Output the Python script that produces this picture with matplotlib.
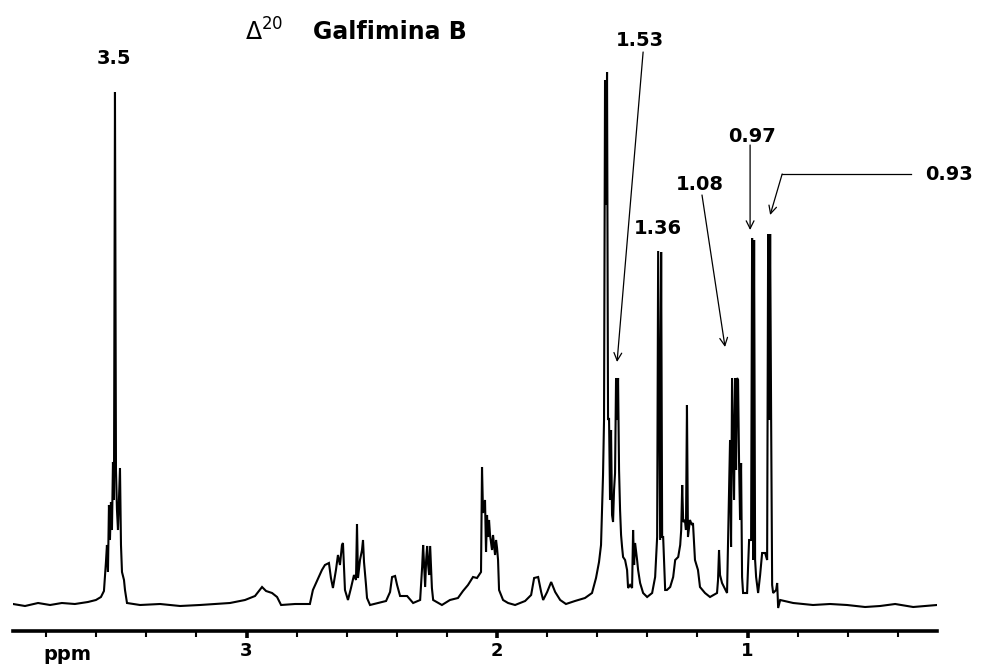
import matplotlib
matplotlib.use("Agg")
from matplotlib import pyplot as plt
import numpy as np

# 1H NMR trace: chemical shift (ppm) and intensity (a.u.)
ppm = [3.932, 3.884, 3.832, 3.784, 3.737, 3.685, 3.633, 3.601, 3.581, 3.569,
       3.561, 3.557, 3.553, 3.549, 3.545, 3.541, 3.537, 3.533, 3.529, 3.525,
       3.521, 3.517, 3.513, 3.509, 3.505, 3.501, 3.497, 3.489, 3.485, 3.477,
       3.425, 3.345, 3.265, 3.186, 3.126, 3.066, 3.006, 2.966, 2.938, 2.922,
       2.898, 2.878, 2.862, 2.806, 2.747, 2.735, 2.719, 2.699, 2.687, 2.671,
       2.663, 2.655, 2.643, 2.635, 2.627, 2.619, 2.615, 2.607, 2.595, 2.583,
       2.571, 2.563, 2.559, 2.555, 2.547, 2.539, 2.535, 2.531, 2.523, 2.519,
       2.507, 2.475, 2.443, 2.427, 2.419, 2.407, 2.399, 2.387, 2.359, 2.335,
       2.307, 2.299, 2.295, 2.291, 2.287, 2.283, 2.279, 2.275, 2.271, 2.267,
       2.263, 2.260, 2.255, 2.220, 2.188, 2.156, 2.136, 2.116, 2.096, 2.080,
       2.064, 2.060, 2.056, 2.048, 2.044, 2.040, 2.036, 2.032, 2.028, 2.020,
       2.016, 2.008, 2.004, 2.000, 1.996, 1.992, 1.976, 1.956, 1.928, 1.888,
       1.864, 1.852, 1.836, 1.824, 1.816, 1.800, 1.784, 1.768, 1.748, 1.725,
       1.689, 1.649, 1.621, 1.605, 1.593, 1.585, 1.581, 1.577, 1.573, 1.569,
       1.565, 1.561, 1.557, 1.553, 1.549, 1.545, 1.541, 1.537, 1.533, 1.529,
       1.525, 1.521, 1.517, 1.513, 1.509, 1.505, 1.501, 1.497, 1.489, 1.481,
       1.477, 1.469, 1.461, 1.457, 1.453, 1.449, 1.441, 1.437, 1.429, 1.417,
       1.401, 1.381, 1.369, 1.361, 1.357, 1.349, 1.345, 1.341, 1.337, 1.329,
       1.322, 1.309, 1.297, 1.289, 1.277, 1.269, 1.265, 1.261, 1.257, 1.250,
       1.246, 1.242, 1.238, 1.230, 1.222, 1.218, 1.210, 1.198, 1.190, 1.170,
       1.150, 1.122, 1.118, 1.114, 1.110, 1.102, 1.082, 1.078, 1.070, 1.066,
       1.062, 1.054, 1.050, 1.046, 1.042, 1.038, 1.034, 1.030, 1.026, 1.022,
       1.018, 1.002, 0.994, 0.986, 0.982, 0.978, 0.974, 0.970, 0.966, 0.958,
       0.950, 0.942, 0.930, 0.922, 0.918, 0.914, 0.910, 0.906, 0.902, 0.898,
       0.886, 0.882, 0.878, 0.870, 0.818, 0.739, 0.671, 0.603, 0.531, 0.471,
       0.411, 0.339, 0.291, 0.244]
intensity = [0, -2, 1, -1, 1, 0, 2, 4, 7, 13,
             42, 59, 32, 99, 64, 102, 74, 142, 104, 512,
             134, 94, 74, 104, 136, 59, 32, 24, 14, 1,
             -1, 0, -2, -1, 0, 1, 4, 8, 17, 13,
             11, 7, -1, 0, 0, 14, 23, 34, 39, 41,
             26, 16, 34, 49, 39, 59, 61, 14, 4, 16,
             29, 24, 80, 26, 44, 54, 64, 42, 19, 6,
             -1, 1, 3, 12, 27, 28, 19, 8, 8, 1,
             4, 37, 59, 39, 17, 44, 58, 39, 29, 58,
             34, 16, 4, -1, 4, 6, 13, 19, 27, 26,
             32, 137, 91, 104, 52, 89, 67, 84, 69, 54,
             69, 49, 64, 56, 44, 14, 4, 1, -1, 3,
             9, 26, 27, 12, 4, 12, 22, 12, 4, 0,
             3, 6, 11, 26, 42, 59, 94, 129, 184, 524,
             399, 532, 184, 186, 104, 174, 89, 82, 114, 131,
             226, 184, 226, 134, 94, 69, 57, 47, 44, 34,
             16, 19, 16, 74, 39, 61, 44, 34, 21, 11,
             7, 11, 27, 67, 353, 64, 352, 67, 67, 14,
             14, 17, 27, 44, 47, 59, 74, 119, 82, 84,
             74, 199, 67, 84, 79, 81, 44, 34, 17, 11,
             7, 11, 24, 54, 29, 21, 11, 61, 164, 57,
             226, 104, 226, 134, 226, 224, 141, 84, 141, 27,
             11, 11, 64, 64, 366, 44, 364, 44, 27, 11,
             29, 51, 51, 44, 370, 184, 370, 184, 19, 11,
             14, 21, -4, 4, 1, -1, 0, -1, -3, -2,
             0, -3, -2, -1]

tick_major = [3, 2, 1]
tick_minor = [3.8, 3.6, 3.4, 3.2, 2.8, 2.6, 2.4, 2.2, 1.8, 1.6, 1.4, 1.2,
              0.8, 0.6, 0.4]

# peak labels: text, label position (ppm, intensity)
peak_labels = ["3.5", "1.53", "1.36", "1.08", "0.97", "0.93"]
label_ppm = [3.529, 1.429, 1.357, 1.190, 0.982, 0.195]
label_int = [546, 563, 376, 419, 468, 430]


def main():
    fig = plt.figure(figsize=(9.83, 6.65), dpi=100)
    ax = fig.add_axes([13/983, 34/665, 924/983, 631/665])

    ax.plot(ppm, intensity, color='black', lw=1.5, solid_joinstyle='miter')
    ax.set_xlim(3.932, 0.244)
    ax.set_ylim(-27, 604)

    for s in ['left', 'right', 'top']:
        ax.spines[s].set_visible(False)
    ax.spines['bottom'].set_linewidth(2.6)
    ax.set_yticks([])
    ax.set_xticks(tick_major)
    ax.set_xticklabels([str(t) for t in tick_major], fontweight='bold', fontsize=13)
    ax.set_xticks(tick_minor, minor=True)
    ax.tick_params(axis='x', which='major', direction='out', length=5, width=2.6, pad=3)
    ax.tick_params(axis='x', which='minor', direction='out', length=4, width=1.5)

    fig.text(67/983, 1 - 654/665, "ppm", fontsize=14, fontweight='bold',
             ha='center', va='center')

    # title
    fig.text(245/983, 1 - 32/665, r"$\Delta^{20}$", fontsize=17,
             ha='left', va='center')
    fig.text(313/983, 1 - 32/665, "Galfimina B", fontsize=17,
             fontweight='bold', ha='left', va='center')

    for t, x, y in zip(peak_labels, label_ppm, label_int):
        ax.text(x, y, t, fontsize=14, fontweight='bold', ha='center',
                va='center', clip_on=False)

    arrow = dict(arrowstyle='->', lw=0.9, color='black', shrinkA=0, shrinkB=0,
                 mutation_scale=14)
    # 1.53
    ax.annotate("", xy=(1.521, 242), xytext=(1.417, 552), arrowprops=arrow)
    # 1.08
    ax.annotate("", xy=(1.090, 257), xytext=(1.182, 409), arrowprops=arrow)
    # 0.97
    ax.annotate("", xy=(0.990, 374), xytext=(0.990, 459), arrowprops=arrow)
    # 0.93 (elbow)
    ax.plot([0.348, 0.862], [430, 430], color='black', lw=0.9, clip_on=False)
    ax.annotate("", xy=(0.910, 389), xytext=(0.862, 430), arrowprops=arrow)

    fig.savefig("out.png", dpi=100)


if __name__ == "__main__":
    main()
